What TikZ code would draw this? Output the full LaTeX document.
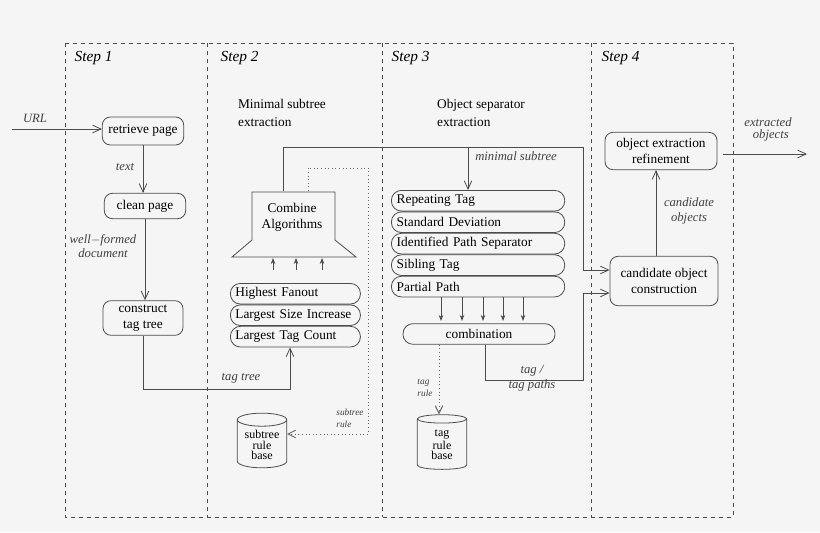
\documentclass[tikz,border=0pt]{standalone}
\usepackage{fontspec}
\setmainfont{Liberation Serif}
\newfontfamily\tms{Liberation Serif}
\usetikzlibrary{shapes.geometric, arrows.meta, positioning}

\begin{document}
\begin{tikzpicture}[
    x=0.75pt, y=-0.75pt,
    node distance=0pt,
    font=\tms,
    line/.style={draw=black!70, line width=0.6pt},
    box/.style={rectangle, line, rounded corners=6pt, align=center, font=\tms\fontsize{10}{12}\selectfont, inner sep=1pt},
    row/.style={rectangle, line, rounded corners=7.5pt, minimum height=15.5pt, font=\tms\fontsize{10}{11}\selectfont, inner sep=3pt},
    storage/.style={cylinder, line, shape border rotate=90, aspect=0.35, minimum height=41pt, minimum width=37pt, align=center, font=\tms\fontsize{9}{8}\selectfont, inner sep=1pt},
    arrow/.style={line, -{Straight Barb[length=2.2mm, width=2mm]}},
    dotarrow/.style={draw=black!60, dotted, line width=0.7pt, -{Straight Barb[length=2mm, width=2mm]}},
    label/.style={font=\tms\fontsize{9.5}{11}\selectfont\itshape, text=black!75, align=center},
    small/.style={font=\tms\fontsize{7}{9}\selectfont\itshape, text=black!75, align=left},
    steplbl/.style={font=\tms\fontsize{11.5}{13}\selectfont\itshape, anchor=west}
]
\useasboundingbox[fill=black!4] (0,0) rectangle (820,532);

% Steps
\draw[black!70, dashed, line width=0.6pt] (65,43) rectangle (733,517);
\foreach \xs in {207,382,591}
  \draw[black!70, dashed, line width=0.6pt] (\xs,43) -- (\xs,517);
\node[steplbl] (s1) at (70,58) {Step 1};
\node[steplbl] (s2) at (216,58) {Step 2};
\node[steplbl] (s3) at (387,58) {Step 3};
\node[steplbl] (s4) at (597,58) {Step 4};

% Step 1
\node[box, minimum width=61pt, minimum height=21pt] (retrieve) at (143,131) {retrieve page};
\node[box, minimum width=61pt, minimum height=19pt] (clean) at (145,206) {clean page};
\node[box, minimum width=60pt, minimum height=26pt] (construct) at (143,318) {construct\\tag tree};
\coordinate (url) at (12,129);
\draw[arrow] (url) -- (retrieve.west |- url);
\node[label] (urll) at (35,118) {URL};
\draw[arrow] (retrieve) -- (clean.north -| retrieve);
\node[label] (textl) at (125,167) {text};
\draw[arrow] (clean) -- (construct.north -| clean);
\node[label] (wfl) at (103,246) {well$-$formed\\document};

% Step 2
\node[font=\tms\fontsize{10}{14}\selectfont, align=left] (msub) at (282,113) {Minimal subtree\\extraction};
\draw[line] (252,192) -- (335,192) -- (335,240) -- (356,257) -- (232,257) -- (252,240) -- cycle;
\node[font=\tms\fontsize{10}{12}\selectfont, align=center] (combine) at (292,217) {Combine\\Algorithms};
\coordinate (combtop) at (283,191);
\coordinate (combdot) at (308,191);
\node[row, minimum width=97.5pt, anchor=north west, text width=90pt] (fanout) at (230,283) {Highest Fanout};
\node[row, minimum width=97.5pt, below=of fanout, text width=90pt] (size) {Largest Size Increase};
\node[row, minimum width=97.5pt, below=of size, text width=90pt] (count) {Largest Tag Count};
\foreach \xa in {273,296,322}
  \draw[line, -{Stealth[length=1.6mm, width=1.2mm]}] (\xa,270) -- (\xa,258);
\coordinate (ttin) at (290,0);
\draw[arrow] (construct) -- (143,389) -- (290,389) -- (count.south -| ttin);
\node[label] (ttl) at (241,378) {tag tree};
\node[storage] (srb) at (262,445) {subtree\\rule\\base};
\coordinate (srin) at (0,434);
\draw[dotarrow] (combdot) -- (308,168) -- (368,168) -- (368,434) -- (srb.east |- srin);
\node[small] (srl) at (350,418) {subtree\\rule};

% Step 3
\node[font=\tms\fontsize{10}{14}\selectfont, align=left] (osep) at (481,113) {Object separator\\extraction};
\node[row, minimum width=130pt, anchor=north west, text width=122pt] (rep) at (391,190) {Repeating Tag};
\node[row, minimum width=130pt, below=of rep, text width=122pt] (std) {Standard Deviation};
\node[row, minimum width=130pt, below=of std, text width=122pt] (ips) {Identified Path Separator};
\node[row, minimum width=130pt, below=of ips, text width=122pt] (sib) {Sibling Tag};
\node[row, minimum width=130pt, below=of sib, text width=122pt] (ppath) {Partial Path};
\node[row, minimum width=114pt] (comb) at (479,334) {combination};
\foreach \xb in {441,462,483,503,523}
  \draw[line, -{Stealth[length=1.6mm, width=1.2mm]}] (\xb,297) -- (\xb,321);
\node[storage] (trb) at (442,445) {tag\\rule\\base};
\coordinate (trx) at (439,0);
\draw[dotarrow] (comb.south -| trx) -- (trb.north -| trx);
\node[small] (trl) at (425,388) {tag\\rule};
\node[label] (tpl) at (532,378) {tag /\\tag paths};

% Step 4
\node[box, minimum width=84pt, minimum height=28pt] (refine) at (661,151) {object extraction\\refinement};
\node[box, minimum width=81pt, minimum height=37pt] (cand) at (664,281) {candidate object\\construction};
\coordinate (in1) at (0,270);
\coordinate (in2) at (0,293);
\coordinate (msx) at (468,0);
\coordinate (cbx) at (485,0);
\coordinate (cox) at (656,0);
\draw[arrow] (combtop) -- (283,147) -- (583,147) -- (583,270) -- (cand.west |- in1);
\draw[arrow] (468,147) -- (rep.north -| msx);
\node[label] (msl) at (516,156) {minimal subtree};
\draw[arrow] (comb.south -| cbx) -- (485,380) -- (583,380) -- (583,293) -- (cand.west |- in2);
\draw[arrow] (cand.north -| cox) -- (refine.south -| cox);
\node[label] (col) at (689,211) {candidate\\objects};
\coordinate (outs) at (723,154);
\coordinate (out) at (807,154);
\draw[arrow] (outs) -- (out);
\node[label, font=\tms\fontsize{9.5}{9}\selectfont\itshape] (eol) at (768,129) {extracted\\\phantom{x}objects};
\end{tikzpicture}
\end{document}
